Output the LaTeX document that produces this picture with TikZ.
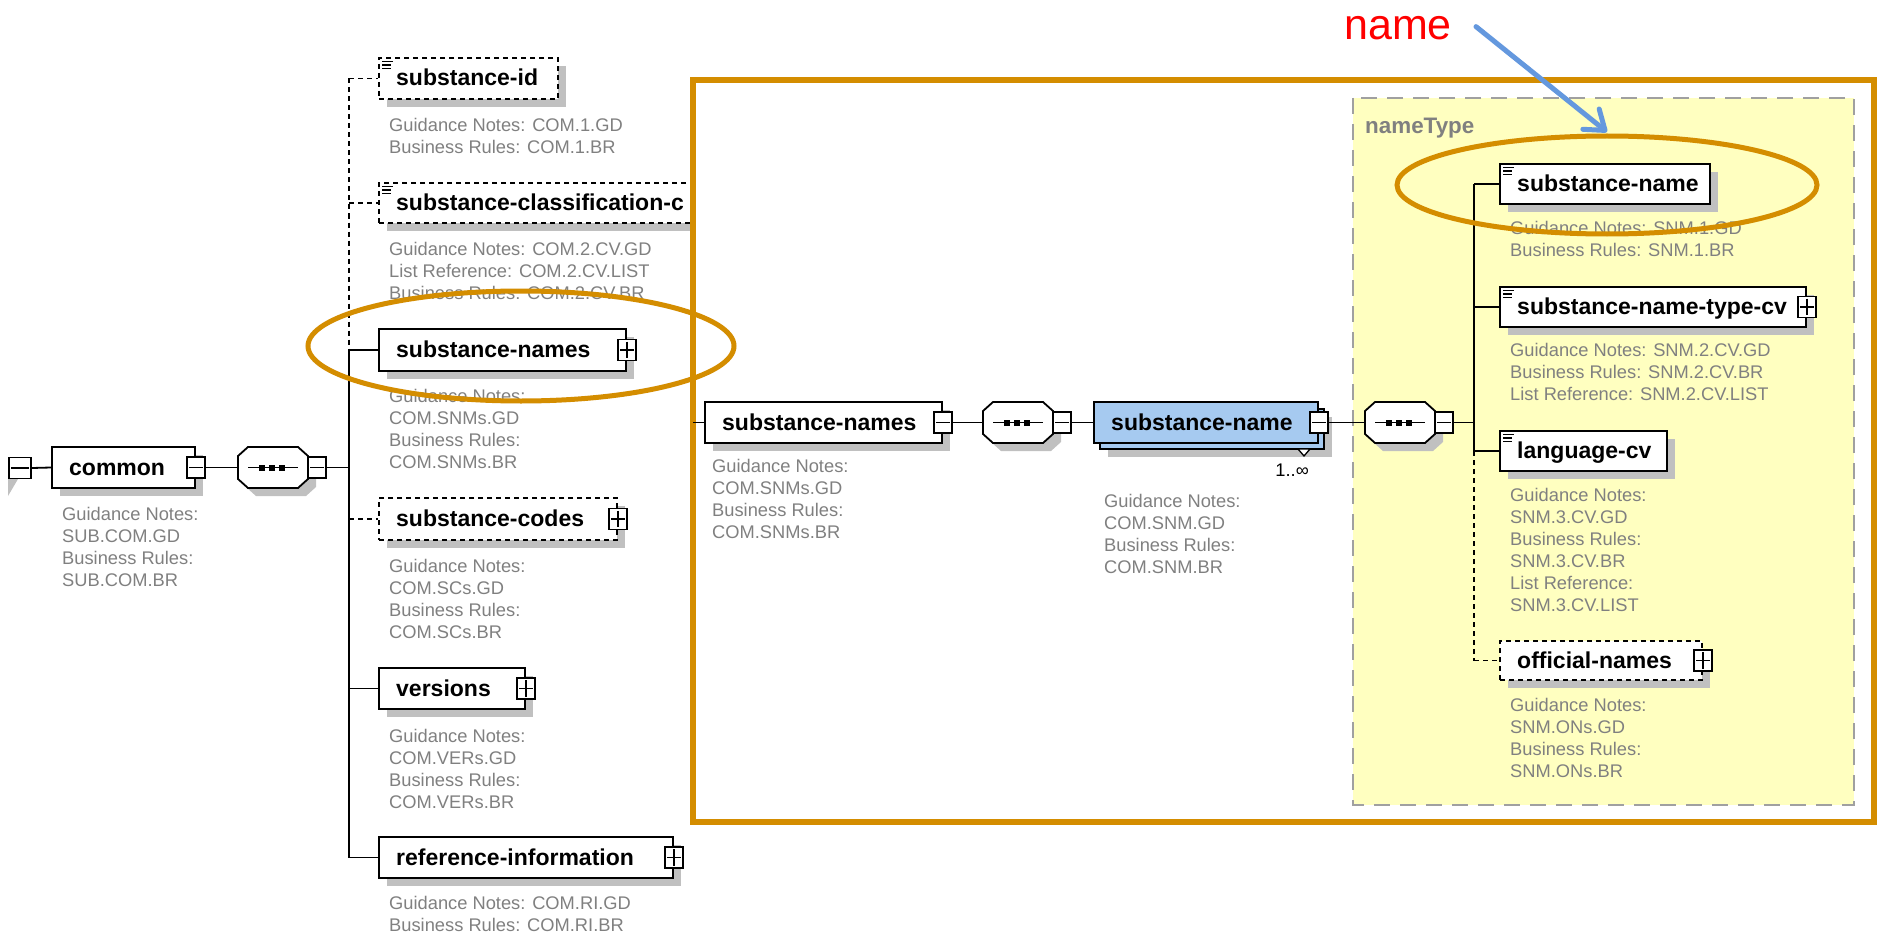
\documentclass[tikz,border=0pt]{standalone}
\usepackage{fontspec}
\setmainfont{Liberation Sans}
\usetikzlibrary{fit,arrows.meta}
\definecolor{orangec}{RGB}{212,141,0}
\definecolor{bluec}{RGB}{166,202,240}
\definecolor{yellowc}{RGB}{255,255,192}
\definecolor{dashc}{RGB}{160,160,160}
\definecolor{shadowc}{RGB}{192,192,192}
\definecolor{notec}{RGB}{128,128,128}
\definecolor{arrowc}{RGB}{100,152,222}
\definecolor{redc}{RGB}{255,0,0}
\tikzset{
  box/.style={draw=black, line width=1.8pt, fill=white, rectangle, inner sep=0pt},
  optbox/.style={box, dash pattern=on 5pt off 4pt},
  bluebox/.style={box, fill=bluec},
  btn/.style={draw=black, line width=1.8pt, fill=white, rectangle, minimum width=18pt, minimum height=21pt, inner sep=0pt},
  lbl/.style={font=\bfseries\fontsize{23}{27}\selectfont, anchor=base west, inner sep=0pt},
  note/.style={font=\fontsize{18.3}{22}\selectfont, text=notec, align=left, anchor=north west, inner sep=0pt},
  conn/.style={line width=1.8pt},
  optconn/.style={conn, dash pattern=on 5pt off 4pt},
}
% #1 style, #2 name, #3 x1, #4 y1, #5 x2, #6 y2, #7 label
\newcommand{\elem}[7][box]{%
  \fill[shadowc] ({#3+8},{#4+8}) rectangle ({#5+8},{#6+8});
  \node[#1, fit={(#3,#4) (#5,#6)}] (#2) {};
  \node[lbl] at ({#3+17},{(#4+#6)/2+7.5}) {#7};
}
\newcommand{\xicon}[2]{%
  \draw[line width=1.2pt] ({#1+3},{#2+3.5}) -- ++(11,0) ({#1+3},{#2+7}) -- ++(9,0) ({#1+3},{#2+10.5}) -- ++(9,0);
}
\newcommand{\minusbtn}[2]{%
  \node[btn] (#1) at #2 {};
  \draw[line width=1.7pt] ([xshift=3pt]#1.west) -- ([xshift=-3pt]#1.east);
}
\newcommand{\plusbtn}[2]{%
  \minusbtn{#1}{#2}%
  \draw[line width=1.7pt] ([yshift=-3pt]#1.north) -- ([yshift=3pt]#1.south);
}
\newcommand{\octpath}[2]{({#1},{#2+9}) -- ({#1+10},{#2}) -- ({#1+60},{#2}) -- ({#1+70},{#2+9}) -- ({#1+70},{#2+32}) -- ({#1+60},{#2+41}) -- ({#1+10},{#2+41}) -- ({#1},{#2+32}) -- cycle}
\newcommand{\seqnode}[3]{%
  \fill[shadowc] \octpath{#2+8}{#3+8};
  \draw[line width=1.8pt, fill=white] \octpath{#2}{#3};
  \node[inner sep=0pt, fit={(#2,#3) ({#2+70},{#3+41})}] (#1) {};
  \draw[line width=1.6pt] ({#2+10},{#3+20.5}) -- ({#2+60},{#3+20.5});
  \foreach \dd in {24,34,44} {\fill ({#2+\dd-3},{#3+17.5}) rectangle ({#2+\dd+3},{#3+23.5});}
}
\begin{document}
\begin{tikzpicture}[x=1pt,y=-1pt]
\useasboundingbox (0,0) rectangle (1878,936);
\fill[white] (0,0) rectangle (1878,936);

% ---------------- left part ----------------
\coordinate (spx) at (349,0);
\fill[shadowc] (8,479) -- (18,479) -- (8,496) -- cycle;
\node[btn, minimum width=22pt] (lb) at (20,468) {};
\draw[line width=1.7pt] ([xshift=3pt]lb.west) -- ([xshift=-3pt]lb.east);

\elem{common}{52}{447}{195}{488}{common}
\minusbtn{commonb}{(common.east)}
\node[note] (ncommon) at (62,507) {Guidance Notes:\\SUB.COM.GD\\Business Rules:\\SUB.COM.BR};
\seqnode{s1}{238}{447}
\minusbtn{s1b}{([xshift=9pt]s1.east)}
\draw[conn] (lb.east) -- (common.west);
\draw[conn] (commonb.east) -- (s1.west);
\draw[conn] (s1b.east) -- (s1b.east -| spx);

\elem[optbox]{sid}{379}{58}{558}{99}{substance-id}
\xicon{379}{58}
\node[note] (nsid) at (389,118) {Guidance Notes: COM.1.GD\\Business Rules: COM.1.BR};

\elem[optbox]{scc}{379}{183}{760}{223}{substance-classification-c}
\xicon{379}{183}
\node[note] (nscc) at (389,242) {Guidance Notes: COM.2.CV.GD\\List Reference: COM.2.CV.LIST\\Business Rules: COM.2.CV.BR};

\elem{sns}{379}{329}{626}{371}{substance-names}
\plusbtn{snsb}{(sns.east)}
\node[note] (nsns) at (389,389) {Guidance Notes:\\COM.SNMs.GD\\Business Rules:\\COM.SNMs.BR};

\elem[optbox]{scodes}{379}{498}{617}{540}{substance-codes}
\plusbtn{scodesb}{(scodes.east)}
\node[note] (nscodes) at (389,559) {Guidance Notes:\\COM.SCs.GD\\Business Rules:\\COM.SCs.BR};

\elem{versions}{379}{668}{525}{709}{versions}
\plusbtn{versionsb}{(versions.east)}
\node[note] (nversions) at (389,729) {Guidance Notes:\\COM.VERs.GD\\Business Rules:\\COM.VERs.BR};

\elem{refinfo}{379}{837}{673}{878}{reference-information}
\plusbtn{refinfob}{(refinfo.east)}
\node[note] (nrefinfo) at (389,896) {Guidance Notes: COM.RI.GD\\Business Rules: COM.RI.BR};

\draw[optconn] (sid.west -| spx) -- (sns.west -| spx);
\draw[conn] (sns.west -| spx) -- (refinfo.west -| spx);
\draw[optconn] (sid.west -| spx) -- (sid.west);
\draw[optconn] (scc.west -| spx) -- (scc.west);
\draw[conn] (sns.west -| spx) -- (sns.west);
\draw[optconn] (scodes.west -| spx) -- (scodes.west);
\draw[conn] (versions.west -| spx) -- (versions.west);
\draw[conn] (refinfo.west -| spx) -- (refinfo.west);

% ---------------- frame ----------------
\draw[orangec, line width=6pt, fill=white] (693,80.5) rectangle (1874,822);
\draw[fill=yellowc, draw=dashc, line width=2.5pt, dash pattern=on 16pt off 10pt] (1353,98) rectangle (1854,805);
\node[font=\bfseries\fontsize{22.4}{26}\selectfont, text=notec, anchor=base west, inner sep=0pt] (ntype) at (1365,134) {nameType};

% ---------------- middle ----------------
\coordinate (fin) at (693,422.5);
\elem{msns}{705}{402}{942}{443}{substance-names}
\minusbtn{msnsb}{(msns.east)}
\node[note] (nmsns) at (712,459) {Guidance Notes:\\COM.SNMs.GD\\Business Rules:\\COM.SNMs.BR};
\seqnode{s2}{983}{402}
\minusbtn{s2b}{([xshift=9pt]s2.east)}

\fill[shadowc] (1108,417) rectangle (1332,457);
\draw[line width=1.8pt, fill=bluec] (1100,409) rectangle (1324,449);
\node[bluebox, fit={(1094,402) (1318,443)}] (bsn) {};
\node[lbl] at (1111,430) {substance-name};
\minusbtn{bsnb}{(bsn.east)}
\draw[line width=1.3pt, fill=white] (1298,449) -- (1310,449) -- (1304,456) -- cycle;
\node[font=\fontsize{18.3}{22}\selectfont, anchor=base east, inner sep=0pt] (mult) at (1309,476) {1..∞};
\node[note] (nbsn) at (1104,494) {Guidance Notes:\\COM.SNM.GD\\Business Rules:\\COM.SNM.BR};

\seqnode{s3}{1365}{402}
\minusbtn{s3b}{([xshift=9pt]s3.east)}
\coordinate (sp2) at (1474,0);

\draw[conn] (fin) -- (msns.west);
\draw[conn] (msnsb.east) -- (s2.west);
\draw[conn] (s2b.east) -- (bsn.west);
\draw[conn] (bsnb.east) -- (s3.west);
\draw[conn] (s3b.east) -- (s3b.east -| sp2);

% ---------------- right ----------------
\elem{rsn}{1500}{164}{1710}{204}{substance-name}
\xicon{1500}{164}
\node[note] (nrsn) at (1510,221) {Guidance Notes: SNM.1.GD\\Business Rules: SNM.1.BR};

\elem{rsntc}{1500}{287}{1806}{327}{substance-name-type-cv}
\xicon{1500}{287}
\plusbtn{rsntcb}{(rsntc.east)}
\node[note] (nrsntc) at (1510,343) {Guidance Notes: SNM.2.CV.GD\\Business Rules: SNM.2.CV.BR\\List Reference: SNM.2.CV.LIST};

\elem{rlang}{1500}{431}{1667}{471}{language-cv}
\xicon{1500}{431}
\node[note] (nrlang) at (1510,488) {Guidance Notes:\\SNM.3.CV.GD\\Business Rules:\\SNM.3.CV.BR\\List Reference:\\SNM.3.CV.LIST};

\elem[optbox]{roff}{1500}{641}{1702}{680}{official-names}
\plusbtn{roffb}{(roff.east)}
\node[note] (nroff) at (1510,698) {Guidance Notes:\\SNM.ONs.GD\\Business Rules:\\SNM.ONs.BR};

\draw[conn] (rsn.west -| sp2) -- (rlang.west -| sp2);
\draw[optconn] (rlang.west -| sp2) -- (roff.west -| sp2);
\draw[conn] (rsn.west -| sp2) -- (rsn.west);
\draw[conn] (rsntc.west -| sp2) -- (rsntc.west);
\draw[conn] (rlang.west -| sp2) -- (rlang.west);
\draw[optconn] (roff.west -| sp2) -- (roff.west);

% ---------------- highlights ----------------
\draw[orangec, line width=5pt] (521,346) ellipse [x radius=213pt, y radius=55pt];
\draw[orangec, line width=5pt] (1607,185) ellipse [x radius=210pt, y radius=49pt];

\node[font=\fontsize{43}{48}\selectfont, text=redc, anchor=base east, inner sep=0pt] (namelbl) at (1452,40) {name};
\coordinate (atip) at (1607,132);
\draw[arrowc, line width=5pt, line cap=round, -{Straight Barb[length=18pt,width=26pt,round]}] ([xshift=24pt,yshift=2pt]namelbl.east) -- (atip);
\end{tikzpicture}
\end{document}
